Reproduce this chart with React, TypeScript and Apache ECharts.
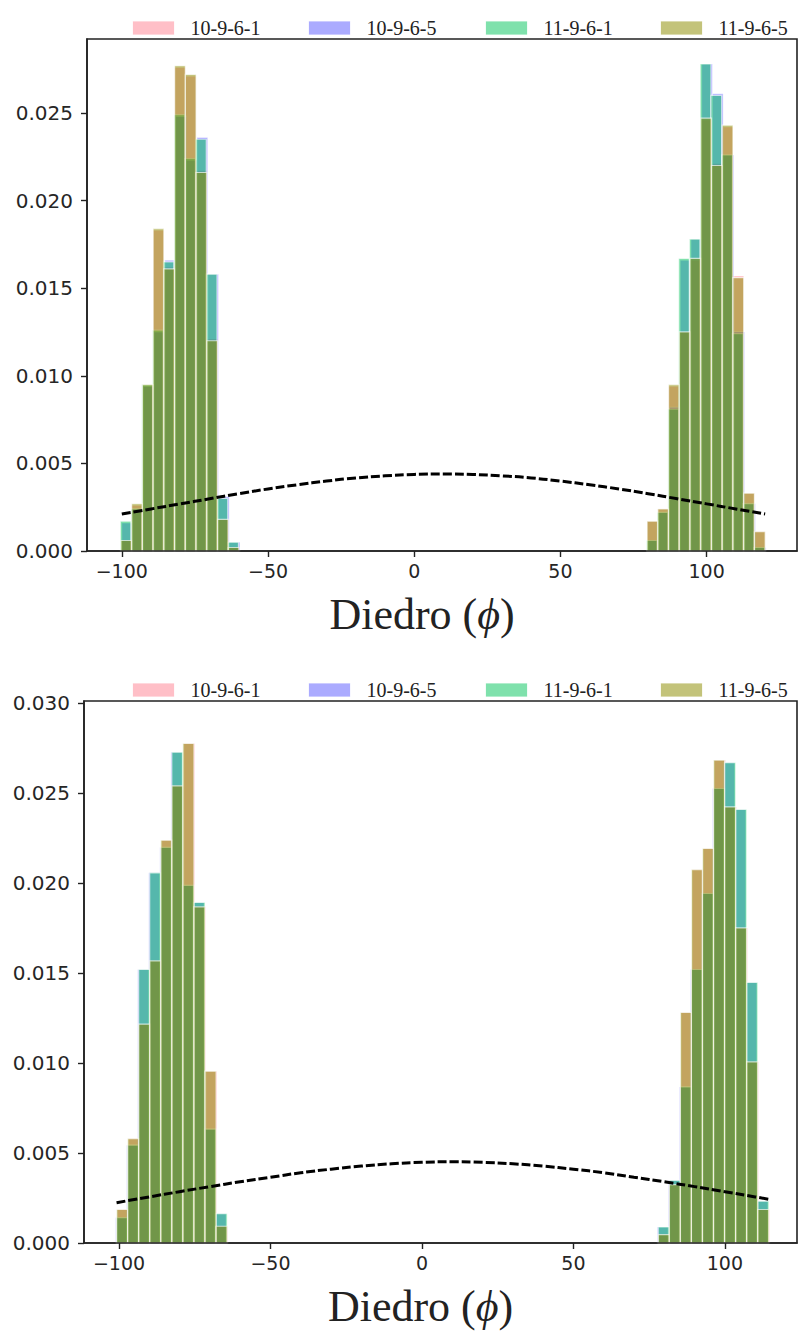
import React, { useEffect, useRef } from "react";
import * as echarts from "echarts";

// Series labels, drawn in this order (later ones on top)
const seriesNames = ["10-9-6-1", "10-9-6-5", "11-9-6-1", "11-9-6-5"];

// ---------- upper panel ----------
const upperBinWidth = 3.672;
// first bin edge of each series (pink, blue, green, olive)
const upperBinStarts = [-100.3, -100.0, -100.5, -100.3];
const upperRightFirstBin = 49;

const upperPinkLeft = [0.0006, 0.0026, 0.0094, 0.0183, 0.0162, 0.0276, 0.0271, 0.0217, 0.0121, 0.0018, 0.0002];
const upperBlueLeft = [0.0016, 0.0024, 0.0094, 0.0125, 0.0166, 0.0248, 0.0223, 0.0236, 0.0158, 0.0031, 0.0005];
const upperGreenLeft = [0.0017, 0.0024, 0.0095, 0.0126, 0.0165, 0.0249, 0.0224, 0.0235, 0.0158, 0.003, 0.0005];
const upperOliveLeft = [0.0006, 0.0027, 0.0095, 0.0184, 0.0161, 0.0277, 0.0272, 0.0216, 0.012, 0.0018, 0.0002];

const upperPinkRight = [0.0017, 0.0024, 0.0094, 0.0125, 0.0166, 0.0246, 0.0221, 0.0242, 0.0157, 0.0033, 0.0011];
const upperBlueRight = [0.0006, 0.0022, 0.0082, 0.0166, 0.0178, 0.0278, 0.0261, 0.0226, 0.0125, 0.0027, 0.0002];
const upperGreenRight = [0.0006, 0.0022, 0.0081, 0.0167, 0.0178, 0.0278, 0.026, 0.0226, 0.0124, 0.0027, 0.0002];
const upperOliveRight = [0.0017, 0.0024, 0.0095, 0.0125, 0.0167, 0.0247, 0.022, 0.0243, 0.0156, 0.0033, 0.0011];

const upperCurveX = [-100, -90, -80, -70, -60, -50, -40, -30, -20, -10, 0, 10, 20, 30, 40, 50, 60, 70, 80, 90, 100, 110, 120];
const upperCurveY = [0.00211, 0.0024, 0.00269, 0.00298, 0.00327, 0.00354, 0.00378, 0.00399, 0.00417, 0.00429, 0.00437, 0.0044, 0.00437, 0.00429, 0.00417, 0.00399, 0.00378, 0.00354, 0.00327, 0.00298, 0.00269, 0.0024, 0.00211];

// ---------- lower panel ----------
const lowerBinWidth = 3.649;
const lowerBinStarts = [-100.5, -101.1, -100.8, -100.8];
const lowerRightFirstBin = 49;

const lowerPinkLeft = [0.00186, 0.0058, 0.01215, 0.01567, 0.02237, 0.02539, 0.02774, 0.01867, 0.00954, 0.00093];
const lowerBlueLeft = [0.00141, 0.00543, 0.01519, 0.02056, 0.02197, 0.02726, 0.01986, 0.01891, 0.00632, 0.00163];
const lowerGreenLeft = [0.00141, 0.00543, 0.01519, 0.02056, 0.02197, 0.02726, 0.01986, 0.01891, 0.00632, 0.00163];
const lowerOliveLeft = [0.00186, 0.0058, 0.01215, 0.01567, 0.02237, 0.02539, 0.02774, 0.01867, 0.00954, 0.00093];

const lowerPinkRight = [0.00047, 0.00324, 0.0128, 0.02074, 0.02191, 0.02682, 0.02422, 0.0175, 0.01006, 0.00186];
const lowerBlueRight = [0.00089, 0.00348, 0.00867, 0.01519, 0.01941, 0.02524, 0.02667, 0.02408, 0.01447, 0.00232];
const lowerGreenRight = [0.00089, 0.00348, 0.00867, 0.01519, 0.01941, 0.02524, 0.02667, 0.02408, 0.01447, 0.00232];
const lowerOliveRight = [0.00047, 0.00324, 0.0128, 0.02074, 0.02191, 0.02682, 0.02422, 0.0175, 0.01006, 0.00186];

const lowerCurveX = [-100.8, -90, -80, -70, -60, -50, -40, -30, -20, -10, 0, 10, 20, 30, 40, 50, 60, 70, 80, 90, 100, 110, 114.5];
const lowerCurveY = [0.00224, 0.00256, 0.00285, 0.00313, 0.0034, 0.00365, 0.0039, 0.0041, 0.00427, 0.0044, 0.00448, 0.00451, 0.00448, 0.0044, 0.00427, 0.0041, 0.0039, 0.00365, 0.0034, 0.00313, 0.00285, 0.00256, 0.00243];

// ---------- ticks ----------
const xTicks = [-100, -50, 0, 50, 100];
const upperYTicks = [0, 0.005, 0.01, 0.015, 0.02, 0.025];
const lowerYTicks = [0, 0.005, 0.01, 0.015, 0.02, 0.025, 0.03];

// ---------- styling ----------
const fills = [
  "rgba(255,0,30,0.25)",
  "rgba(0,0,255,0.33)",
  "rgba(0,195,90,0.5)",
  "rgba(140,140,0,0.52)",
];
const edges = [
  "rgba(255,255,255,0.35)",
  "rgba(255,255,255,0.45)",
  "rgba(255,255,255,0.6)",
  "rgba(255,255,255,0.65)",
];
const ink = "#222222";
const tickFont = "'DejaVu Sans', sans-serif";
const serifFont = "'Liberation Serif', 'DejaVu Serif', serif";

type Bin = [number, number, number];

function binsFor(start: number, width: number, rightFirst: number, left: number[], right: number[]): Bin[] {
  const out: Bin[] = [];
  left.forEach((h, i) => out.push([start + i * width, start + (i + 1) * width, h]));
  right.forEach((h, i) => {
    const k = rightFirst + i;
    out.push([start + k * width, start + (k + 1) * width, h]);
  });
  return out;
}

function histSeries(idx: number, panel: number, data: Bin[]) {
  const fill = fills[idx];
  const stroke = edges[idx];
  return {
    type: "custom",
    name: seriesNames[idx],
    xAxisIndex: panel,
    yAxisIndex: panel,
    itemStyle: { color: fill },
    encode: { x: [0, 1], y: 2 },
    z: 2 + idx,
    silent: true,
    data,
    renderItem: (_params: any, api: any) => {
      const a = api.coord([api.value(0), 0]);
      const b = api.coord([api.value(1), api.value(2)]);
      return {
        type: "rect",
        shape: { x: a[0], y: b[1], width: b[0] - a[0], height: a[1] - b[1] },
        style: { fill, stroke, lineWidth: 1.2 },
      };
    },
  };
}

function curveSeries(panel: number, xs: number[], ys: number[]) {
  return {
    type: "line",
    xAxisIndex: panel,
    yAxisIndex: panel,
    data: xs.map((x, i) => [x, ys[i]]),
    symbol: "none",
    smooth: true,
    silent: true,
    z: 10,
    lineStyle: { color: "#000", width: 3, type: [9, 3] },
  };
}

function xAxisFor(panel: number, min: number, max: number) {
  return {
    type: "value",
    gridIndex: panel,
    min,
    max,
    splitLine: { show: false },
    axisLine: { show: true, onZero: false, lineStyle: { color: ink, width: 1.6 } },
    axisTick: { show: true, length: 6, customValues: xTicks, lineStyle: { color: ink, width: 1.4 } },
    axisLabel: {
      customValues: xTicks,
      margin: 10,
      fontFamily: tickFont,
      fontSize: 19,
      color: "#262626",
      formatter: (v: number) => (v < 0 ? "\u2212" + Math.abs(v) : String(v)),
    },
    name: "Diedro ({phi|\u03d5})",
    nameLocation: "middle",
    nameGap: 41,
    nameTextStyle: {
      fontFamily: serifFont,
      fontSize: 44,
      color: ink,
      padding: [0, 40, 0, 0],
      rich: { phi: { fontFamily: serifFont, fontStyle: "italic", fontSize: 44, color: ink } },
    },
    z: 20,
  };
}

function yAxisFor(panel: number, max: number, ticks: number[]) {
  return {
    type: "value",
    gridIndex: panel,
    min: 0,
    max,
    splitLine: { show: false },
    axisLine: { show: true, onZero: false, lineStyle: { color: ink, width: 1.6 } },
    axisTick: { show: true, length: 6, customValues: ticks, lineStyle: { color: ink, width: 1.4 } },
    axisLabel: {
      customValues: ticks,
      margin: 14,
      fontFamily: tickFont,
      fontSize: 20,
      color: "#262626",
      formatter: (v: number) => v.toFixed(3),
    },
    z: 20,
  };
}

const legendLefts = [132, 308, 485, 660];

function legendsFor(top: number) {
  return seriesNames.map((name, i) => ({
    data: [name],
    left: legendLefts[i],
    top,
    padding: 0,
    icon: "rect",
    itemWidth: 42,
    itemHeight: 14,
    selectedMode: false,
    itemStyle: { borderColor: "rgba(255,255,255,0.8)", borderWidth: 1 },
    textStyle: { fontFamily: serifFont, fontSize: 20, color: ink, padding: [0, 0, 0, 11], lineHeight: 14 },
  }));
}

export default function App() {
  const ref = useRef<HTMLDivElement>(null);

  useEffect(() => {
    if (!ref.current) return;
    const chart = echarts.init(ref.current, undefined, { renderer: "svg" });

    const upperSets = [
      [upperPinkLeft, upperPinkRight],
      [upperBlueLeft, upperBlueRight],
      [upperGreenLeft, upperGreenRight],
      [upperOliveLeft, upperOliveRight],
    ];
    const lowerSets = [
      [lowerPinkLeft, lowerPinkRight],
      [lowerBlueLeft, lowerBlueRight],
      [lowerGreenLeft, lowerGreenRight],
      [lowerOliveLeft, lowerOliveRight],
    ];

    const series: any[] = [];
    upperSets.forEach(([l, r], i) =>
      series.push(histSeries(i, 0, binsFor(upperBinStarts[i], upperBinWidth, upperRightFirstBin, l, r)))
    );
    series.push(curveSeries(0, upperCurveX, upperCurveY));
    lowerSets.forEach(([l, r], i) =>
      series.push(histSeries(i, 1, binsFor(lowerBinStarts[i], lowerBinWidth, lowerRightFirstBin, l, r)))
    );
    series.push(curveSeries(1, lowerCurveX, lowerCurveY));

    chart.setOption({
      animation: false,
      backgroundColor: "#ffffff",
      grid: [
        { left: 87, top: 39, width: 710, height: 512, show: true, borderColor: ink, borderWidth: 1.6, backgroundColor: "transparent" },
        { left: 84, top: 701, width: 713, height: 542, show: true, borderColor: ink, borderWidth: 1.6, backgroundColor: "transparent" },
      ],
      legend: [...legendsFor(18), ...legendsFor(680)],
      xAxis: [xAxisFor(0, -111.9, 130.9), xAxisFor(1, -111.55, 123.8)],
      yAxis: [yAxisFor(0, 0.02922, upperYTicks), yAxisFor(1, 0.0301, lowerYTicks)],
      series,
    });

    return () => chart.dispose();
  }, []);

  return <div ref={ref} style={{ position: "fixed", left: 0, top: 0, width: 800, height: 1338 }} />;
}
